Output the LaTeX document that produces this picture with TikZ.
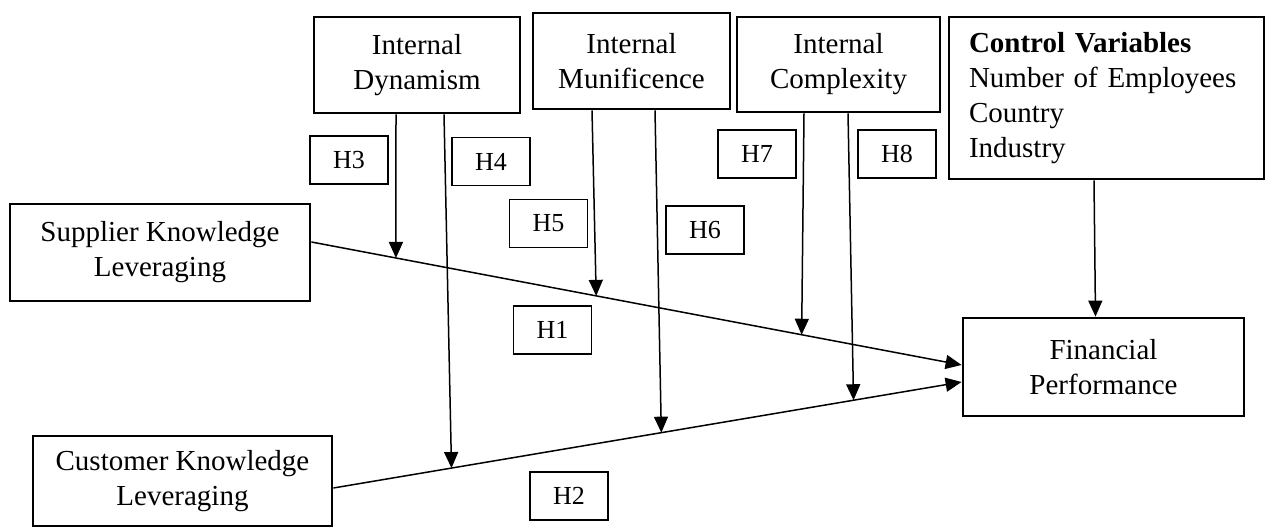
\documentclass[tikz,border=0pt]{standalone}
\usepackage{fontspec}
\setmainfont{Liberation Serif}
\usepackage{tikz}
\usetikzlibrary{arrows.meta,calc}

\begin{document}
\begin{tikzpicture}[x=1pt, y=-1pt,
    box/.style={rectangle, draw, line width=2.8pt, align=center, inner sep=0pt, font=\fontsize{29}{35}\selectfont},
    hbox/.style={rectangle, draw, line width=1.3pt, minimum width=78pt, minimum height=48pt, inner sep=0pt, font=\fontsize{26}{30}\selectfont},
    arrow/.style={-{Triangle[width=14pt,length=16pt]}, line width=1.5pt}
]
\useasboundingbox (0,0) rectangle (1266,529);

% moderators and controls
\node[box, minimum width=206pt, minimum height=96pt] (dyn) at (417,65) {Internal\\Dynamism};
\node[box, minimum width=197pt, minimum height=96pt] (mun) at (631.5,61) {Internal\\Munificence};
\node[box, minimum width=203pt, minimum height=95pt] (cpx) at (838.5,64.5) {Internal\\Complexity};
\node[box, minimum width=315pt, minimum height=162pt, text width=275pt, align=left] (ctl) at (1106.5,98) {\textbf{Control Variables}\\Number of Employees\\Country\\Industry};

% independent and dependent variables
\node[box, minimum width=300pt, minimum height=97pt] (sup) at (160,252.5) {Supplier Knowledge\\Leveraging};
\node[box, minimum width=299pt, minimum height=90pt] (cus) at (182.5,481) {Customer Knowledge\\Leveraging};
\node[box, minimum width=281pt, minimum height=98pt] (fin) at (1103.5,367) {Financial\\Performance};

% hypotheses
\node[hbox] (h3) at (349,160) {H3};
\node[hbox] (h4) at (491,161.5) {H4};
\node[hbox] (h5) at (548.5,223.5) {H5};
\node[hbox] (h6) at (705,230) {H6};
\node[hbox] (h7) at (757,154) {H7};
\node[hbox] (h8) at (897,154) {H8};
\node[hbox] (h1) at (552.5,330) {H1};
\node[hbox] (h2) at (569,496) {H2};

% main effects
\draw[arrow] ([yshift=10.5pt]sup.east) -- coordinate[pos=0.13] (s1) coordinate[pos=0.438] (s2) coordinate[pos=0.754] (s3) ([yshift=2pt]fin.west);
\draw[arrow] ([yshift=-7pt]cus.east) -- coordinate[pos=0.188] (c1) coordinate[pos=0.522] (c2) coordinate[pos=0.828] (c3) ([yshift=-15pt]fin.west);

% moderating effects
\draw[arrow] ([xshift=-21pt]dyn.south) -- (s1);
\draw[arrow] ([xshift=27pt]dyn.south) -- (c1);
\draw[arrow] ([xshift=-39.5pt]mun.south) -- (s2);
\draw[arrow] ([xshift=23.5pt]mun.south) -- (c2);
\draw[arrow] ([xshift=-34.5pt]cpx.south) -- (s3);
\draw[arrow] ([xshift=9.5pt]cpx.south) -- (c3);
\draw[arrow] ([xshift=-12.5pt]ctl.south) -- ([xshift=-8pt]fin.north);
\end{tikzpicture}
\end{document}
